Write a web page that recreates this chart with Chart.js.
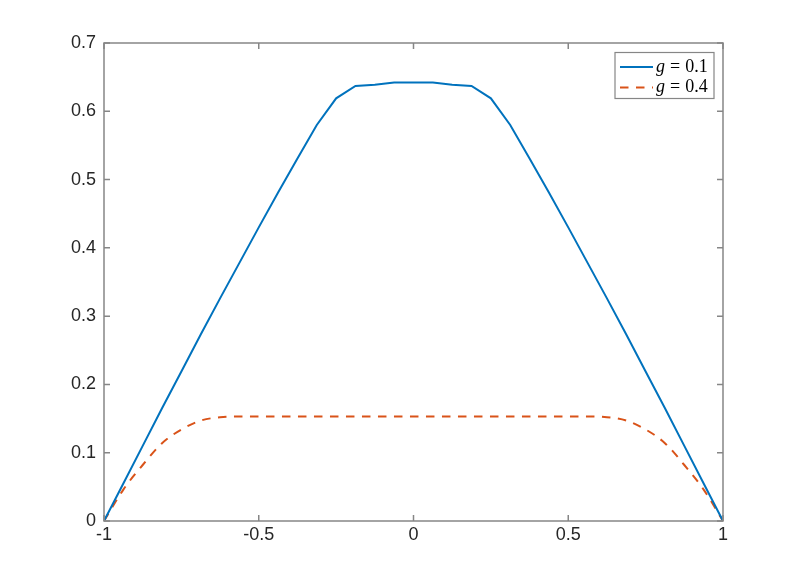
<!DOCTYPE html>
<html>
<head>
<meta charset="utf-8">
<script src="https://cdn.jsdelivr.net/npm/chart.js@4/dist/chart.umd.min.js"></script>
<style>
  html, body { margin: 0; padding: 0; background: #ffffff; }
  #wrap { width: 800px; height: 585px; }
</style>
</head>
<body>
<div id="wrap"><canvas id="c" width="800" height="585"></canvas></div>
<script>
// ---- data ----
const xValues = [-1, -0.9375, -0.875, -0.8125, -0.75, -0.6875, -0.625, -0.5625, -0.5, -0.4375, -0.375, -0.3125, -0.25, -0.1875, -0.125, -0.0625, 0,
                 0.0625, 0.125, 0.1875, 0.25, 0.3125, 0.375, 0.4375, 0.5, 0.5625, 0.625, 0.6875, 0.75, 0.8125, 0.875, 0.9375, 1];
const seriesG01 = [0, 0.055, 0.110, 0.165, 0.219, 0.273, 0.326, 0.378, 0.430, 0.481, 0.531, 0.580, 0.619, 0.637, 0.639, 0.642, 0.642,
                   0.642, 0.639, 0.637, 0.619, 0.580, 0.531, 0.481, 0.430, 0.378, 0.326, 0.273, 0.219, 0.165, 0.110, 0.055, 0];
const seriesG04 = [0, 0.046, 0.082, 0.114, 0.134, 0.147, 0.152, 0.153, 0.153, 0.153, 0.153, 0.153, 0.153, 0.153, 0.153, 0.153, 0.153,
                   0.153, 0.153, 0.153, 0.153, 0.153, 0.153, 0.153, 0.153, 0.153, 0.152, 0.147, 0.134, 0.114, 0.082, 0.046, 0];
const seriesLabels = ['g = 0.1', 'g = 0.4'];
const xTickValues = [-1, -0.5, 0, 0.5, 1];
const xTickLabels = ['-1', '-0.5', '0', '0.5', '1'];
const yTickValues = [0, 0.1, 0.2, 0.3, 0.4, 0.5, 0.6, 0.7];
const yTickLabels = ['0', '0.1', '0.2', '0.3', '0.4', '0.5', '0.6', '0.7'];

const AXIS_COLOR = '#868686';
const TEXT_COLOR = '#262626';
const TICK_FONT = { family: '"Liberation Sans", Helvetica, Arial, sans-serif', size: 18 };

function pts(ys) { return xValues.map((x, i) => ({ x: x, y: ys[i] })); }

// box + inward ticks (MATLAB style) and legend
const boxPlugin = {
  id: 'boxPlugin',
  afterDatasetsDraw(chart) {
    const { ctx, chartArea: a, scales } = chart;
    const tl = 6;
    ctx.save();
    ctx.strokeStyle = AXIS_COLOR;
    ctx.lineWidth = 1.5;
    ctx.beginPath();
    ctx.rect(a.left, a.top, a.right - a.left, a.bottom - a.top);
    ctx.stroke();
    ctx.beginPath();
    xTickValues.forEach(v => {
      const px = scales.x.getPixelForValue(v);
      ctx.moveTo(px, a.bottom); ctx.lineTo(px, a.bottom - tl);
      ctx.moveTo(px, a.top); ctx.lineTo(px, a.top + tl);
    });
    yTickValues.forEach(v => {
      const py = scales.y.getPixelForValue(v);
      ctx.moveTo(a.left, py); ctx.lineTo(a.left + tl, py);
      ctx.moveTo(a.right, py); ctx.lineTo(a.right - tl, py);
    });
    ctx.stroke();
    ctx.restore();
  },
  afterDraw(chart) {
    const { ctx, chartArea: a } = chart;
    const bx = 615, by = 52.5, bw = a.right - 9 - 615, bh = 46;
    ctx.save();
    ctx.fillStyle = '#ffffff';
    ctx.fillRect(bx, by, bw, bh);
    ctx.strokeStyle = AXIS_COLOR;
    ctx.lineWidth = 1.2;
    ctx.strokeRect(bx, by, bw, bh);
    const rows = [by + 14.5, by + 35];
    chart.data.datasets.forEach((ds, i) => {
      const y = rows[i];
      ctx.strokeStyle = ds.borderColor;
      ctx.lineWidth = ds.borderWidth;
      ctx.setLineDash(ds.borderDash || []);
      ctx.beginPath();
      ctx.moveTo(bx + 5, y);
      ctx.lineTo(bx + 38, y);
      ctx.stroke();
      ctx.setLineDash([]);
      const parts = ds.label.split(' ');
      let tx = bx + 41;
      ctx.fillStyle = '#000000';
      ctx.textBaseline = 'middle';
      ctx.textAlign = 'left';
      ctx.font = 'italic 18px "Liberation Serif", "Times New Roman", serif';
      ctx.fillText(parts[0], tx, y);
      tx += ctx.measureText(parts[0]).width + 5;
      ctx.font = '18px "Liberation Serif", "Times New Roman", serif';
      ctx.fillText(parts[1], tx, y);
      tx += ctx.measureText(parts[1]).width + 5;
      ctx.fillText(parts[2], tx, y);
    });
    ctx.restore();
  }
};

new Chart(document.getElementById('c'), {
  type: 'line',
  data: {
    datasets: [
      { label: seriesLabels[0], data: pts(seriesG01), borderColor: '#0072BD', borderWidth: 2,
        pointRadius: 0, tension: 0, fill: false },
      { label: seriesLabels[1], data: pts(seriesG04), borderColor: '#D95319', borderWidth: 2,
        borderDash: [8.5, 7.5], pointRadius: 0, cubicInterpolationMode: 'monotone', fill: false }
    ]
  },
  options: {
    responsive: false,
    animation: false,
    layout: { padding: { top: 43, right: 77, bottom: 0, left: 0 } },
    plugins: { legend: { display: false }, tooltip: { enabled: false } },
    scales: {
      x: {
        type: 'linear', min: -1, max: 1,
        afterBuildTicks: s => { s.ticks = xTickValues.map(v => ({ value: v })); },
        afterFit: s => { s.height = 64; },
        grid: { display: false, drawTicks: false },
        border: { display: false },
        ticks: { font: TICK_FONT, color: TEXT_COLOR, padding: 3, maxRotation: 0,
                 callback: (v, i) => xTickLabels[i] }
      },
      y: {
        type: 'linear', min: 0, max: 0.7,
        afterBuildTicks: s => { s.ticks = yTickValues.map(v => ({ value: v })); },
        afterFit: s => { s.width = 104; },
        grid: { display: false, drawTicks: false },
        border: { display: false },
        ticks: { font: TICK_FONT, color: TEXT_COLOR, padding: 8,
                 callback: (v, i) => yTickLabels[i] }
      }
    }
  },
  plugins: [boxPlugin]
});
</script>
</body>
</html>
